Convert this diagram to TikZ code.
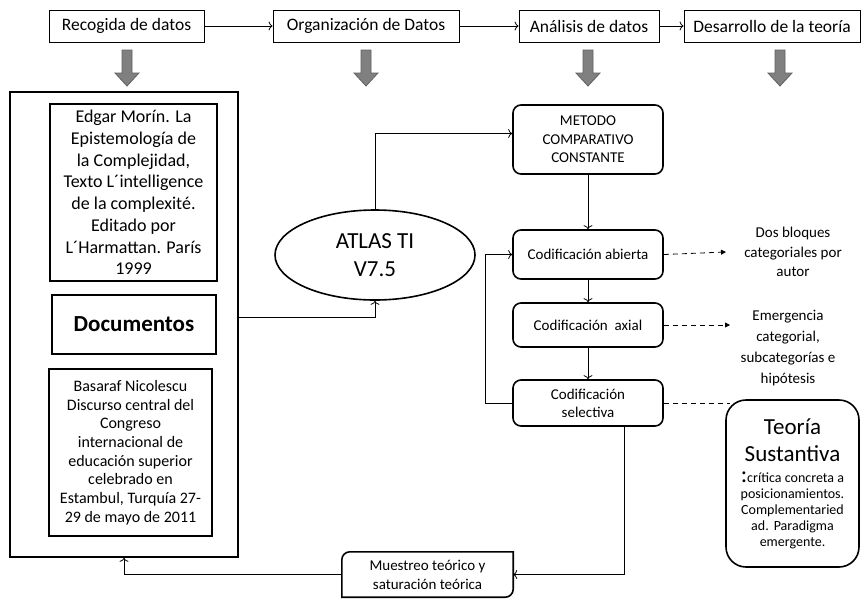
\documentclass[tikz,border=0pt]{standalone}
\usepackage{fontspec}
\setmainfont{Carlito}
\usetikzlibrary{arrows.meta,shapes.geometric}
\begin{document}
\begin{tikzpicture}[x=1pt, y=-1pt,
    topbox/.style={draw, line width=0.8pt, minimum height=32pt, inner sep=2pt, font=\fontsize{17.5}{21}\selectfont},
    docbox/.style={draw, line width=1.6pt, align=center, inner sep=2pt},
    codbox/.style={draw, line width=1.6pt, rounded corners=8pt, minimum width=150pt, align=center, inner sep=2pt, font=\fontsize{15}{18.5}\selectfont},
    nota/.style={align=center, inner sep=1pt},
    conn/.style={-{To[length=4pt,width=9pt]}, line width=0.8pt},
    dashconn/.style={-{Triangle[length=5pt,width=5pt]}, line width=0.8pt, dash pattern=on 5pt off 4pt},
    graybar/.style={fill=black!50, draw=black!62, line width=0.8pt}]
    \useasboundingbox (0,0) rectangle (866,600);

    % Fases
    \node[topbox, minimum width=155pt] (recogida) at (126.5,26) {Recogida de datos};
    \node[topbox, minimum width=186pt] (organizacion) at (366,26) {Organización de Datos};
    \node[topbox, minimum width=140pt] (analisis) at (589,26) {Análisis de datos};
    \node[topbox, minimum width=176pt] (desarrollo) at (772,26) {Desarrollo de la teoría};
    \draw[conn] (recogida) -- (organizacion);
    \draw[conn] (organizacion) -- (analisis);
    \draw[conn] (analisis) -- (desarrollo);

    % Flechas grises
    \foreach \x in {127,366,588,780}
        \draw[graybar] (\x-5,50) -- (\x+5,50) -- (\x+5,73) -- (\x+12,73) -- (\x,86) -- (\x-12,73) -- (\x-5,73) -- cycle;

    % Documentos
    \node[docbox, minimum width=228pt, minimum height=465pt] (marco) at (124,324.5) {};
    \node[docbox, minimum width=167pt, minimum height=177pt, font=\fontsize{18}{21.7}\selectfont] (edgar) at (133.5,192.5)
        {Edgar Morín. La\\Epistemología de\\la Complejidad,\\Texto L´intelligence\\de la complexité.\\Editado por\\L´Harmattan. París\\1999};
    \node[docbox, minimum width=164pt, minimum height=59pt, font=\fontsize{23}{27}\selectfont\bfseries] (documentos) at (134,324.5) {Documentos};
    \node[docbox, minimum width=163pt, minimum height=167pt, font=\fontsize{16}{18.7}\selectfont] (basaraf) at (130.5,452.5)
        {Basaraf Nicolescu\\Discurso central del\\Congreso\\internacional de\\educación superior\\celebrado en\\Estambul, Turquía 27-\\29 de mayo de 2011};

    % ATLAS TI
    \node[ellipse, draw, line width=1.6pt, minimum width=200pt, minimum height=90pt, align=center, inner sep=0pt, font=\fontsize{23}{28}\selectfont] (atlas) at (375,255) {ATLAS TI\\V7.5};

    % Codificacion
    \node[codbox, minimum height=69pt] (metodo) at (588,139.5) {METODO\\COMPARATIVO\\CONSTANTE};
    \node[codbox, minimum height=49pt] (abierta) at (588,254.5) {Codificación abierta};
    \node[codbox, minimum height=44pt] (axial) at (588,325) {Codificación\ \ axial};
    \node[codbox, minimum height=46pt, font=\fontsize{15}{18}\selectfont] (selectiva) at (588,403) {Codificación\\selectiva};

    % Resultados
    \node[nota, font=\fontsize{15}{19.5}\selectfont] (dosbloques) at (793,252) {Dos bloques\\categoriales por\\autor};
    \node[nota, font=\fontsize{15}{21}\selectfont] (emergencia) at (788,348.5) {Emergencia\\categorial,\\subcategorías e\\hipótesis};
    \node[docbox, rounded corners=20pt, minimum width=133pt, minimum height=167pt, text width=128pt] (teoria) at (792.5,483.5)
        {{\fontsize{23}{27}\selectfont Teoría\\Sustantiva\par}\vspace{5pt}%
         {\fontsize{14}{16}\selectfont{\fontsize{24}{16}\selectfont:}crítica concreta a\\posicionamientos.\\Complementaried\\ad. Paradigma\\emergente.\par}};
    \coordinate (finabierta) at (726,252);
    \coordinate (finaxial) at (730,325);
    \coordinate (finselectiva) at (730,403);

    % Muestreo
    \node[align=center, minimum width=171pt, minimum height=45pt, inner sep=2pt, font=\fontsize{15}{19}\selectfont] (muestreo) at (427.5,574.5) {Muestreo teórico y\\saturación teórica};
    \draw[line width=1.6pt] (muestreo.south west) -- ([yshift=-8pt]muestreo.north west) arc[start angle=180, end angle=90, radius=8pt]
        -- (muestreo.north east) -- ([yshift=8pt]muestreo.south east) arc[start angle=0, end angle=-90, radius=8pt] -- cycle;

    % Conexiones
    \draw[conn] ([yshift=7pt]documentos.east -| marco.east) -| (atlas.south);
    \draw[conn] (atlas.north) |- ([yshift=6pt]metodo.west);
    \draw[conn] (metodo) -- (abierta);
    \draw[conn] (abierta) -- (axial);
    \draw[conn] (axial) -- (selectiva);
    \draw[conn] (selectiva.west) -- ++(-27,0) |- (abierta.west);
    \draw[dashconn] (abierta.east) -- (finabierta);
    \draw[dashconn] (axial.east) -- (finaxial);
    \draw[line width=0.8pt, dash pattern=on 5pt off 4pt] (selectiva.east) -- (finselectiva);
    \draw[conn] ([xshift=36pt]selectiva.south) |- (muestreo.east);
    \draw[conn] (muestreo.west) -| (marco.south);
\end{tikzpicture}
\end{document}
